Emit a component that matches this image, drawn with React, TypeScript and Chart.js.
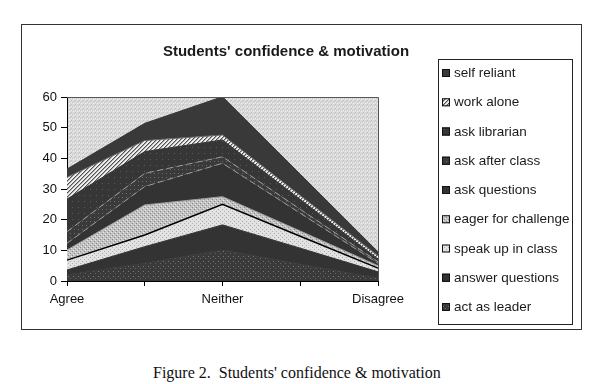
import React, { useEffect, useRef } from "react";
import { Chart, registerables } from "chart.js";
Chart.register(...registerables);

const categories = ["Agree", "", "Neither", "", "Disagree"];
const seriesNames = [
  "act as leader",
  "answer questions",
  "speak up in class",
  "eager for challenge",
  "ask questions",
  "ask after class",
  "ask librarian",
  "work alone",
  "self reliant",
];
const actAsLeader = [2, 5.8, 10.1, 5.5, 1];
const answerQuestions = [1.6, 5.4, 8.2, 5.2, 2];
const speakUpInClass = [3.2, 3.8, 6.7, 3.9, 1.2];
const eagerForChallenge = [3.3, 9.8, 2.5, 1.7, 0.8];
const askQuestions = [2.2, 6, 10.9, 5.8, 0.8];
const askAfterClass = [3.8, 4.3, 2.1, 1.3, 0.5];
const askLibrarian = [10.6, 7.1, 5.5, 3.2, 0.9];
const workAlone = [7.1, 3.6, 1.6, 1.3, 1];
const selfReliant = [2.7, 5.6, 12.5, 6.9, 1.3];
const yMin = 0;
const yMax = 60;
const yStep = 10;
const chartTitle = "Students' confidence & motivation";
const caption = "Figure 2.  Students' confidence & motivation";

type Dot = [number, number, string];
function makePattern(size: number, base: string, dots: Dot[]): CanvasPattern | string {
  const c = document.createElement("canvas");
  c.width = size;
  c.height = size;
  const g = c.getContext("2d");
  if (!g) return base;
  g.fillStyle = base;
  g.fillRect(0, 0, size, size);
  for (const [x, y, col] of dots) {
    g.fillStyle = col;
    g.fillRect(x, y, 1, 1);
  }
  return g.createPattern(c, "repeat") || base;
}

function hatchPattern(): CanvasPattern | string {
  const dots: Dot[] = [];
  for (let x = 0; x < 4; x++)
    for (let y = 0; y < 4; y++) {
      const m = (x + y) % 4;
      if (m === 0) dots.push([x, y, "#505050"]);
      else if (m === 1) dots.push([x, y, "#a8a8a8"]);
    }
  return makePattern(4, "#eeeeee", dots);
}

export default function App() {
  const ref = useRef<HTMLCanvasElement | null>(null);

  useEffect(() => {
    const canvas = ref.current;
    if (!canvas) return;

    const bgPattern = makePattern(4, "#dadada", [
      [0, 0, "#c2c2c2"],
      [2, 1, "#c8c8c8"],
      [1, 3, "#c0c0c0"],
      [3, 2, "#f0f0f0"],
      [1, 1, "#ededed"],
    ]);

    const fills: (CanvasPattern | string)[] = [
      makePattern(5, "#3a3a3a", [[1, 1, "#7a7a7a"], [3, 3, "#666"]]),
      "#333333",
      makePattern(4, "#e2e2e2", [[0, 0, "#a8a8a8"], [2, 2, "#b0b0b0"]]),
      makePattern(4, "#c2c2c2", [[0, 0, "#8a8a8a"], [2, 2, "#8a8a8a"], [1, 3, "#e8e8e8"], [3, 1, "#e8e8e8"]]),
      "#333333",
      makePattern(4, "#3a3a3a", [[0, 0, "#6e6e6e"]]),
      makePattern(6, "#363636", [[2, 2, "#5a5a5a"]]),
      hatchPattern(),
      "#393939",
    ];
    const swatchBase = ["#3a3a3a", "#333", "#e2e2e2", "#c2c2c2", "#333", "#3a3a3a", "#363636", "#999", "#393939"];
    const borders = ["#3a3a3a", "#333333", "#000000", "#9a9a9a", "#9a9a9a", "#9a9a9a", "#363636", "#666666", "#393939"];
    const borderWidths = [1, 1, 1.5, 1, 1, 1, 1, 1, 1];
    const dashes: number[][] = [[], [], [], [], [6, 4], [6, 4], [], [], []];

    const series = [
      actAsLeader,
      answerQuestions,
      speakUpInClass,
      eagerForChallenge,
      askQuestions,
      askAfterClass,
      askLibrarian,
      workAlone,
      selfReliant,
    ];

    const datasets = series.map((vals, i) => ({
      label: seriesNames[i],
      data: vals,
      backgroundColor: fills[i] as any,
      borderColor: borders[i],
      borderWidth: borderWidths[i],
      borderDash: dashes[i],
      fill: i === 0 ? "origin" : "-1",
      pointRadius: 0,
      pointHoverRadius: 0,
      tension: 0,
    }));

    const decor = {
      id: "decor",
      beforeDraw(chart: any) {
        const { ctx, chartArea: a } = chart;
        ctx.save();
        ctx.fillStyle = bgPattern as any;
        ctx.fillRect(a.left, a.top, a.right - a.left, a.bottom - a.top);
        ctx.restore();
      },
      afterDraw(chart: any) {
        const { ctx, chartArea: a } = chart;
        ctx.save();
        ctx.strokeStyle = "#555";
        ctx.lineWidth = 1;
        ctx.beginPath();
        ctx.moveTo(a.left, a.top + 0.5);
        ctx.lineTo(a.right + 0.5, a.top + 0.5);
        ctx.lineTo(a.right + 0.5, a.bottom);
        ctx.stroke();

        ctx.fillStyle = "#1a1a1a";
        ctx.font = "bold 15px 'Liberation Sans', Arial, sans-serif";
        ctx.textAlign = "center";
        ctx.textBaseline = "middle";
        ctx.fillText(chartTitle, 264, 27);

        const lx = 416, ly = 34, lw = 134, lh = 265;
        ctx.strokeStyle = "#222";
        ctx.lineWidth = 1;
        ctx.strokeRect(lx + 0.5, ly + 0.5, lw, lh);
        const n = chart.data.datasets.length;
        const step = 29.25;
        ctx.font = "13.5px 'Liberation Sans', Arial, sans-serif";
        ctx.textAlign = "left";
        ctx.textBaseline = "middle";
        for (let k = 0; k < n; k++) {
          const di = n - 1 - k;
          const ds = chart.data.datasets[di];
          const cy = ly + 14 + k * step;
          ctx.fillStyle = swatchBase[di];
          ctx.fillRect(lx + 4, cy - 4, 8, 8);
          ctx.fillStyle = ds.backgroundColor;
          ctx.fillRect(lx + 4, cy - 4, 8, 8);
          ctx.strokeStyle = "#111";
          ctx.strokeRect(lx + 4.5, cy - 3.5, 7, 7);
          ctx.fillStyle = "#1a1a1a";
          ctx.fillText(ds.label, lx + 16, cy + 0.5);
        }
        ctx.restore();
      },
    };

    const chart = new Chart(canvas, {
      type: "line",
      data: { labels: categories, datasets: datasets as any },
      options: {
        animation: false,
        responsive: false,
        devicePixelRatio: 1,
        layout: { padding: { left: 0, top: 72, right: 203, bottom: 0 } },
        plugins: {
          legend: { display: false },
          title: { display: false },
          tooltip: { enabled: false },
        },
        scales: {
          x: {
            type: "category",
            offset: false,
            afterFit: (s: any) => {
              s.height = 48;
            },
            ticks: {
              autoSkip: false,
              maxRotation: 0,
              padding: 6,
              color: "#111",
              font: { family: "'Liberation Sans', Arial, sans-serif", size: 13 },
            },
            grid: { drawOnChartArea: false, drawTicks: true, tickLength: 5, color: "#000", offset: false },
            border: { display: true, color: "#000", width: 1 },
          },
          y: {
            stacked: true,
            min: yMin,
            max: yMax,
            afterFit: (s: any) => {
              s.width = 45;
            },
            ticks: {
              stepSize: yStep,
              padding: 4,
              color: "#111",
              font: { family: "'Liberation Sans', Arial, sans-serif", size: 13 },
            },
            grid: { drawOnChartArea: false, drawTicks: true, tickLength: 6, color: "#000" },
            border: { display: true, color: "#000", width: 1 },
          },
        },
      },
      plugins: [decor],
    });

    return () => chart.destroy();
  }, []);

  return (
    <div style={{ position: "absolute", left: 0, top: 0, width: 606, height: 384, background: "#fff" }}>
      <div
        style={{
          position: "absolute",
          left: 21,
          top: 24,
          width: 559,
          height: 304,
          border: "1px solid #333",
        }}
      >
        <canvas ref={ref} width={559} height={304} style={{ display: "block", width: 559, height: 304 }} />
      </div>
      <div
        style={{
          position: "absolute",
          left: 153,
          top: 364,
          fontFamily: "'Liberation Serif', 'Times New Roman', serif",
          fontSize: 16,
          color: "#111",
          whiteSpace: "pre",
          lineHeight: "normal",
        }}
      >
        {caption}
      </div>
    </div>
  );
}
